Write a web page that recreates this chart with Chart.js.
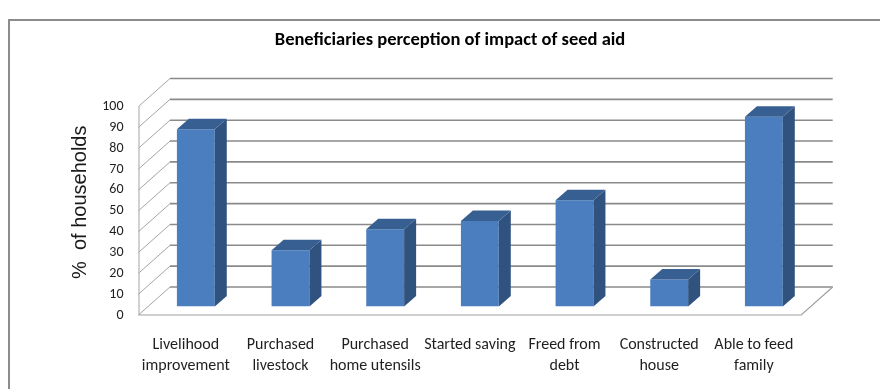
<!DOCTYPE html>
<html>
<head>
<meta charset="utf-8">
<title>Beneficiaries perception of impact of seed aid</title>
<script src="https://cdn.jsdelivr.net/npm/chart.js@4.4.1/dist/chart.umd.min.js"></script>
<style>
  html, body { margin: 0; padding: 0; background: #fff; }
  #wrap { width: 880px; height: 389px; }
</style>
</head>
<body>
<div id="wrap"><canvas id="seedChart"></canvas></div>
<script>
// Impact categories along the x axis
const categories = [
    ['Livelihood', 'improvement'],
    ['Purchased', 'livestock'],
    ['Purchased', 'home utensils'],
    'Started saving',
    ['Freed from', 'debt'],
    ['Constructed', 'house'],
    ['Able to feed', 'family']
];

// Share of households reporting each impact (%)
const households = [85, 27, 37, 41, 51, 13, 91];

// Value axis
const yMin = 0;
const yMax = 100;
const yStep = 10;

const CALIBRI = 'Carlito, Calibri, "Liberation Sans", sans-serif';

// Oblique offsets, measured from the plane the bar fronts sit on
const FRONT = { dx: -10, dy: 8.5 };    // front edge of floor / side wall
const BACK = { dx: 21.5, dy: -19.5 };  // back wall
const BAR_DEPTH = { dx: 12, dy: -10.5 };

function line(ctx, x1, y1, x2, y2) {
    ctx.beginPath();
    ctx.moveTo(x1, y1);
    ctx.lineTo(x2, y2);
    ctx.stroke();
}

function poly(ctx, pts, fill) {
    ctx.beginPath();
    ctx.moveTo(pts[0][0], pts[0][1]);
    for (let i = 1; i < pts.length; i++) ctx.lineTo(pts[i][0], pts[i][1]);
    ctx.closePath();
    ctx.fillStyle = fill;
    ctx.fill();
}

// Walls, floor and extruded bar faces
const depth3d = {
    id: 'depth3d',
    beforeDraw(chart) {
        const ctx = chart.ctx;
        ctx.save();
        ctx.strokeStyle = '#8c8c8c';
        ctx.lineWidth = 2;
        ctx.strokeRect(9, 20, 900, 400);
        ctx.restore();
    },
    beforeDatasetsDraw(chart) {
        const { ctx, chartArea: a, scales: { y } } = chart;
        const levels = y.ticks.map(t => y.getPixelForValue(t.value));
        const y0 = y.getPixelForValue(yMin);
        const yTop = y.getPixelForValue(yMax);
        ctx.save();

        // side wall
        ctx.strokeStyle = '#a4a4a4';
        ctx.lineWidth = 1;
        levels.forEach(py => {
            line(ctx, a.left + FRONT.dx, py + FRONT.dy, a.left + BACK.dx, py + BACK.dy);
        });
        line(ctx, a.left + FRONT.dx + 0.5, y0 + FRONT.dy, a.left + FRONT.dx + 0.5, yTop + FRONT.dy);

        // back wall gridlines
        ctx.strokeStyle = '#8a8a8a';
        ctx.lineWidth = 1.6;
        levels.forEach(py => {
            line(ctx, a.left + BACK.dx, py + BACK.dy, a.right + BACK.dx, py + BACK.dy);
        });

        // floor
        ctx.strokeStyle = '#a0a0a0';
        ctx.lineWidth = 1.2;
        ctx.beginPath();
        ctx.moveTo(a.left + FRONT.dx, y0 + FRONT.dy);
        ctx.lineTo(a.right + FRONT.dx, y0 + FRONT.dy);
        ctx.lineTo(a.right + BACK.dx, y0 + BACK.dy);
        ctx.stroke();
        ctx.restore();
    },
    afterDatasetsDraw(chart) {
        const ctx = chart.ctx;
        const meta = chart.getDatasetMeta(0);
        ctx.save();
        meta.data.forEach(bar => {
            const { x, y, base, width } = bar.getProps(['x', 'y', 'base', 'width'], true);
            const l = x - width / 2;
            const r = x + width / 2;
            // right side
            poly(ctx, [[r, y], [r + BAR_DEPTH.dx, y + BAR_DEPTH.dy],
                       [r + BAR_DEPTH.dx, base + BAR_DEPTH.dy], [r, base]], '#30527f');
            // top
            poly(ctx, [[l, y], [l + BAR_DEPTH.dx, y + BAR_DEPTH.dy],
                       [r + BAR_DEPTH.dx, y + BAR_DEPTH.dy], [r, y]], '#385f92');
        });
        ctx.restore();
    }
};

new Chart(document.getElementById('seedChart'), {
    type: 'bar',
    data: {
        labels: categories,
        datasets: [{
            data: households,
            backgroundColor: '#4a7ebf',
            borderWidth: 0,
            barPercentage: 0.4,
            categoryPercentage: 1
        }]
    },
    options: {
        responsive: true,
        maintainAspectRatio: false,
        animation: false,
        layout: {
            padding: { left: 20, right: 0, top: 0, bottom: 0 }
        },
        plugins: {
            legend: { display: false },
            tooltip: { enabled: false },
            title: {
                display: true,
                text: 'Beneficiaries perception of impact of seed aid',
                color: '#000',
                font: { family: CALIBRI, size: 18.5, weight: 'bold', lineHeight: 1.2 },
                padding: { top: 29, bottom: 46.8 }
            }
        },
        scales: {
            x: {
                grid: { display: false, drawTicks: false },
                border: { display: false },
                ticks: {
                    color: '#1f1f1f',
                    font: { family: CALIBRI, size: 16, lineHeight: 1.31 },
                    padding: 28,
                    labelOffset: -10,
                    maxRotation: 0,
                    autoSkip: false
                },
                afterFit(scale) {
                    scale.height = 82.5;
                }
            },
            y: {
                min: yMin,
                max: yMax,
                grid: { display: false, drawTicks: false },
                border: { display: false },
                ticks: {
                    stepSize: yStep,
                    autoSkip: false,
                    color: '#1f1f1f',
                    font: { family: CALIBRI, size: 14 },
                    padding: 25,
                    labelOffset: 8.5
                },
                title: {
                    display: true,
                    text: '%  of households',
                    color: '#1a1a1a',
                    font: { family: '"Liberation Sans", Arial, sans-serif', size: 20, lineHeight: 1.2 },
                    padding: { top: 48, bottom: 0 }
                },
                afterFit(scale) {
                    scale.width = 128.5;
                }
            },
            // empty strip on the right that holds the floor's depth
            yRight: {
                position: 'right',
                display: true,
                grid: { display: false, drawTicks: false },
                border: { display: false },
                ticks: { display: false },
                afterFit(scale) {
                    scale.width = 68.8;
                }
            }
        }
    },
    plugins: [depth3d]
});
</script>
</body>
</html>
